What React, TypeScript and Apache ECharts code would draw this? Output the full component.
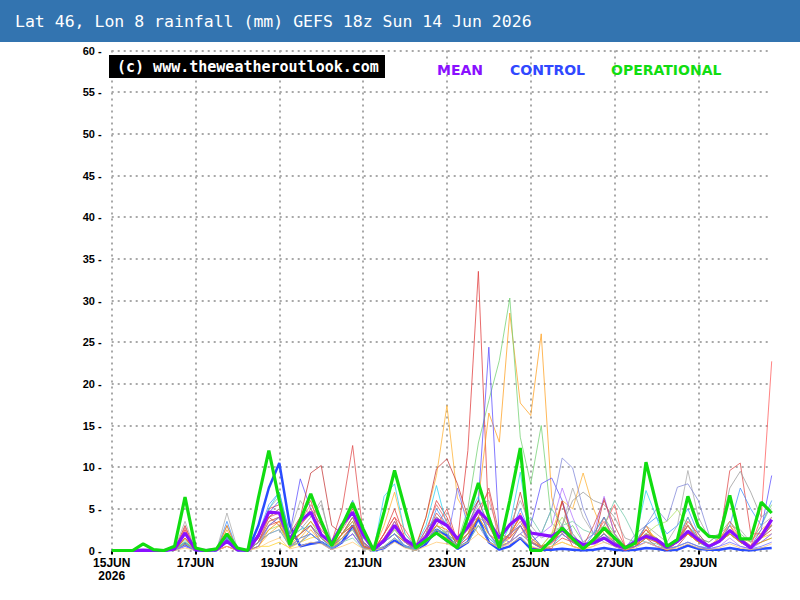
import React, { useEffect, useRef } from "react";
import * as echarts from "echarts";

const TITLE = "Lat 46, Lon 8 rainfall (mm) GEFS 18z Sun 14 Jun 2026";
const STEPS = 64; // 6-hourly steps from 15 Jun 00z
const tickLabels = ["15JUN\n2026", "17JUN", "19JUN", "21JUN", "23JUN", "25JUN", "27JUN", "29JUN"];
const yTicks = [0, 5, 10, 15, 20, 25, 30, 35, 40, 45, 50, 55, 60];

const operational = [
  0, 0, 0, 0.8, 0.1, 0, 0.5, 6.4,
  0.3, 0, 0.2, 2.0, 0.3, 0, 6.3, 12.0,
  6.0, 0.7, 3.6, 6.8, 3.5, 0.6, 3.0, 5.7,
  2.6, 0, 4.6, 9.6, 5.0, 0.3, 1.2, 2.1,
  1.2, 0.3, 4.0, 8.1, 4.0, 0.3, 6.0, 12.3,
  0, 0, 1.3, 2.7, 1.4, 0.2, 1.3, 2.7,
  1.5, 0.3, 0.9, 10.6, 5.5, 0.5, 1.3, 6.5,
  2.9, 1.7, 1.6, 6.6, 1.4, 1.4, 5.8, 4.5,
];

const mean = [
  0, 0, 0, 0.05, 0, 0, 0.2, 2.1,
  0.1, 0, 0.1, 1.1, 0.1, 0, 1.8, 4.6,
  4.5, 1.3, 3.5, 4.6, 1.9, 0.9, 3.1, 4.6,
  1.9, 0.1, 1.2, 3.0, 1.3, 0.5, 1.6, 3.7,
  3.0, 1.4, 2.8, 4.8, 3.5, 1.5, 3.1, 4.1,
  2.1, 1.9, 1.7, 2.5, 1.5, 0.7, 0.9, 1.5,
  0.7, 0.3, 1.1, 1.7, 1.3, 0.4, 1.1, 2.3,
  1.3, 0.5, 1.1, 2.4, 1.3, 0.3, 1.7, 3.7,
];

const control = [
  0, 0, 0, 0, 0, 0, 0.1, 0.8,
  0, 0, 0, 1.5, 0, 0, 3.0, 7.5,
  10.5, 3.0, 0.5, 0.8, 1.0, 0.2, 1.0, 3.0,
  0.5, 0, 0.3, 1.2, 0.5, 0.1, 0.8, 2.5,
  1.8, 0.2, 1.0, 3.9, 1.0, 0.1, 0.5, 1.5,
  0.2, 0.1, 0.1, 0.2, 0.1, 0, 0.1, 0.3,
  0.1, 0, 0.1, 0.3, 0.2, 0, 0.1, 0.6,
  0.2, 0.1, 0.1, 0.3, 0.1, 0, 0.2, 0.3,
];

const m01 = [0,0,0,0,0,0,0.2,2.5, 0,0,0,1.0,0,0,1.5,5.0, 5.5,1.0,4.0,6.0,2.0,0.5,3.0,5.0, 1.0,0,2.0,5.0,1.5,0.2,2.0,6.0, 4.0,1.0,12.0,33.5,3.0,0.5,2.0,4.0, 1.0,0.5,0.2,3.0,0.5,0.1,1.0,2.0, 0.5,0,0.5,3.0,1.0,0,1.0,4.0, 1.5,0.5,1.0,3.0,1.0,0.2,2.0,4.0];
const m02 = [0,0,0,0,0,0,0,1.5, 0,0,0,2.5,0,0,1.0,3.0, 4.0,0.5,1.0,2.5,1.0,0.2,1.5,3.0, 0.5,0,1.0,2.0,1.0,0.5,2.0,4.0, 3.0,1.5,3.0,6.0,16.5,13.0,28.5,17.7, 16.2,26.0,6.4,2.0,1.0,0.5,1.0,2.5, 1.0,0.2,0.5,2.0,1.5,0.3,1.0,3.0, 1.0,0.5,1.5,2.5,1.0,0.5,2.0,3.0];
const m03 = [0,0,0,0,0,0,0.1,1.0, 0,0,0,1.5,0,0,0.5,2.0, 3.0,0.3,1.5,3.0,1.0,0.1,2.0,4.0, 1.0,0,3.0,7.0,2.0,0.5,4.0,9.0, 17.4,6.3,4.0,2.0,1.0,0.5,1.0,2.0, 1.0,0.5,2.0,6.0,5.0,9.3,5.0,2.0, 1.0,0.3,1.0,3.0,1.0,0.2,1.0,2.0, 1.0,0.5,1.5,3.0,1.5,1.0,2.5,3.5];
const m04 = [0,0,0,0,0,0,0,1.2, 0,0,0,1.0,0,0,1.0,3.5, 4.0,1.0,2.0,3.5,1.5,0.3,2.0,3.0, 0.5,0,1.0,2.5,1.0,0.3,1.5,3.0, 2.0,1.0,5.0,12.9,18.0,22.8,30.3,13.6, 8.0,15.0,3.3,2.0,3.0,1.0,2.0,4.0, 2.0,0.5,1.0,2.0,1.5,0.5,1.5,3.0, 1.5,1.0,2.0,3.5,2.0,1.0,3.0,5.5];
const m05 = [0,0,0,0,0,0,0,0.8, 0,0,0,1.0,0,0,2.0,4.5, 6.0,2.0,8.6,5.0,3.0,0.5,1.5,2.5, 0.5,0,1.0,3.5,1.0,0.2,2.5,4.0, 3.0,1.0,3.0,6.0,24.4,1.6,1.0,2.0, 3.0,8.0,8.7,6.0,2.0,0.5,1.0,2.0, 0.5,0,0.5,1.5,1.0,0.2,1.0,2.0, 1.0,0.3,1.0,2.0,1.0,0.5,2.5,9.0];
const m06 = [0,0,0,0,0,0,0,2.0, 0,0,0,0.5,0,0,1.0,3.0, 3.5,1.5,3.0,4.5,2.5,1.0,5.0,12.6, 2.0,0,1.0,2.0,1.0,0,1.0,3.0, 5.0,1.0,2.0,5.0,2.0,0.5,1.0,3.0, 0.5,0,0.5,1.5,1.0,0.2,1.0,4.0, 1.0,0,0.5,2.0,1.0,0.2,1.0,3.0, 1.0,0.5,1.0,9.6,10.5,2.0,2.0,3.0];
const m07 = [0,0,0,0,0,0,0.1,3.0, 0,0,0,1.0,0,0,2.0,4.0, 5.0,2.0,4.0,9.3,10.2,3.0,2.0,4.0, 1.0,0,2.0,4.0,1.0,0.3,4.0,9.8, 11.0,8.0,4.0,6.0,3.0,1.0,2.0,7.0, 2.0,0.5,1.0,5.9,1.0,0.2,1.0,6.3, 2.0,0.3,0.5,1.5,0.5,0,0.5,2.0, 1.0,0.5,1.0,2.0,1.0,0.3,1.5,2.5];
const m08 = [0,0,0,0,0,0,0.2,3.5, 0,0,0,4.5,0.2,0,1.5,5.0, 6.5,2.0,6.0,4.0,5.5,1.0,3.0,6.0, 1.5,0,1.0,2.0,0.5,0.2,2.0,4.0, 2.0,1.0,3.0,5.5,6.0,2.0,3.0,6.0, 3.0,1.5,2.0,3.0,7.5,4.0,2.0,1.5, 1.0,0.5,1.0,3.0,2.0,1.0,3.0,9.6, 4.0,1.5,2.0,3.0,2.5,1.0,3.0,4.0];
const m09 = [0,0,0,0,0,0,0,1.0, 0,0,0,1.5,0,0,2.0,5.0, 7.0,1.5,2.5,3.0,1.5,0.3,2.0,3.5, 0.3,0,6.5,8.0,2.0,0.5,3.0,7.8, 3.0,0.5,4.0,6.5,2.0,0.3,3.0,9.4, 1.0,0.2,0.5,2.0,1.0,0.2,1.0,2.0, 0.5,0.2,1.5,7.2,4.0,0.5,1.5,4.0, 1.0,0.3,1.0,2.0,1.0,0.3,1.5,3.0];
const m10 = [0,0,0,0,0,0,0,0.8, 0,0,0,2.0,0,0,0.5,0.5, 1.0,0.3,1.0,1.5,1.8,0.5,1.0,2.0, 0.3,0,0.5,1.5,0.5,0,1.0,2.5, 1.5,0.5,2.0,3.0,2.0,0.5,1.5,3.0, 1.0,0.3,0.5,1.0,0.5,0.2,0.5,1.5, 0.5,0.2,1.0,2.5,1.5,0.5,1.0,2.0, 1.0,0.5,1.0,2.0,1.0,0.5,1.5,2.0];
const m11 = [0,0,0,0,0,0,0,1.5, 0,0,0,3.0,0,0,1.0,3.0, 4.0,1.0,2.0,3.0,1.0,0.2,1.0,2.0, 0.3,0,1.0,2.0,0.5,0.1,1.0,3.0, 2.0,0.5,1.0,3.0,1.0,0.3,1.0,3.0, 1.0,2.0,5.0,11.1,9.9,5.0,2.0,1.0, 0.5,0.2,2.0,3.0,5.0,3.5,7.6,8.0, 6.0,2.0,1.0,2.0,1.0,0.3,1.0,2.0];
const m12 = [0,0,0,0,0,0,0,2.5, 0,0,0,1.0,0,0,1.0,3.5, 4.0,1.0,3.0,5.0,3.0,0.5,1.5,3.0, 0.5,0,2.0,4.0,2.5,0.5,1.0,2.0, 1.5,0.5,2.0,5.0,7.0,1.0,1.5,4.5, 1.0,0.3,1.0,2.0,1.0,0.2,1.0,3.0, 5.5,0.5,1.0,2.0,1.0,0.2,1.0,2.0, 1.5,0.5,1.0,2.5,1.0,0.5,4.0,22.7];
const m13 = [0,0,0,0,0,0,0,1.0, 0,0,0,1.5,0,0,1.0,2.5, 3.0,0.5,1.5,2.0,1.0,0.2,1.5,2.5, 0.3,0,1.0,2.5,1.0,0.2,1.5,3.0, 2.0,0.5,2.0,4.0,2.0,0.5,1.0,2.0, 1.0,0.5,2.0,4.0,2.0,0.5,1.5,3.0, 2.0,0.5,1.0,2.0,3.0,3.5,4.9,3.0, 1.0,0.5,1.0,2.0,1.0,0.5,2.0,3.0];
const m14 = [0,0,0,0,0,0,0,0.5, 0,0,0,1.0,0,0,1.0,2.0, 2.5,0.5,1.0,2.0,1.0,0.1,1.0,2.0, 0.2,0,0.5,1.5,0.5,0.1,1.0,2.0, 1.0,0.5,1.5,5.0,2.0,0.3,1.0,2.0, 1.0,2.0,3.0,7.5,4.0,1.0,2.0,6.5, 2.0,0.3,0.5,1.0,0.5,0.1,0.5,1.0, 0.5,0.2,0.5,1.5,0.5,0.2,1.0,2.0];
const m15 = [0,0,0,0,0,0,0,1.0, 0,0,0,3.5,0,0,2.0,5.5, 7.0,2.0,3.0,2.0,1.0,0.2,3.0,6.0, 1.0,0,1.0,2.0,0.5,0,1.5,5.0, 3.0,0.5,2.0,3.5,1.5,0.3,2.0,5.0, 2.0,0.5,1.0,3.0,1.5,0.3,2.0,4.0, 1.0,0.2,1.0,3.0,4.0,2.0,3.0,5.0, 2.0,0.5,1.0,3.0,7.5,5.0,3.0,6.0];
const m16 = [0,0,0,0,0,0,0,2.0, 0,0,0,2.0,0,0,2.0,4.0, 5.0,1.5,2.5,4.0,6.0,0.5,2.0,4.0, 0.5,0,1.0,3.0,1.0,0.3,2.0,4.0, 3.0,1.0,3.0,4.0,3.0,0.5,2.0,4.0, 1.5,0.5,1.0,3.0,6.0,7.0,6.0,5.5, 4.0,1.5,1.0,2.0,1.5,0.5,1.0,3.0, 1.5,1.0,2.0,7.5,9.5,7.0,4.0,5.0];
const m17 = [0,0,0,0,0,0,0,1.5, 0,0,0,0.5,0,0,1.0,4.0, 3.0,1.0,2.0,3.0,1.5,0.5,2.0,3.0, 0.5,0,1.0,3.0,1.0,0.3,1.5,4.5, 3.0,0.5,1.5,4.0,7.5,2.0,1.5,3.0, 1.0,0.3,1.0,5.9,1.5,0.5,3.0,6.0, 3.0,0.5,1.0,2.5,1.0,0.3,1.0,3.5, 2.0,0.5,1.0,2.5,1.0,0.5,1.5,3.0];
const m18 = [0,0,0,0,0,0,0,1.0, 0,0,0,1.0,0,0,1.0,2.0, 2.5,0.5,1.0,2.0,1.0,0.2,1.0,1.5, 0.2,0,0.5,1.5,0.5,0.1,1.0,2.5, 2.0,0.5,1.0,3.0,1.5,0.5,2.0,3.0, 4.0,2.0,5.0,3.0,3.5,2.5,2.0,3.0, 6.0,4.0,1.5,1.0,0.8,0.2,0.5,1.0, 0.5,0.3,1.0,2.5,1.5,0.5,1.0,1.5];
const m19 = [0,0,0,0,0,0,0,1.5, 0,0,0,3.0,0,0,0.5,2.5, 3.5,0.5,2.0,3.5,2.0,0.5,2.0,3.5, 0.5,0,1.5,3.0,1.0,0.3,1.5,3.0, 2.5,1.0,2.0,4.0,2.0,1.0,2.0,4.0, 1.5,0.5,1.0,2.5,1.0,0.3,1.0,2.0, 1.0,0.3,0.5,1.5,1.0,0.3,1.0,2.0, 1.0,0.5,1.0,2.0,1.0,0.5,1.0,1.5];
const m20 = [0,0,0,0,0,0,0,0.5, 0,0,0,1.5,0,0,0.5,3.0, 4.0,0.5,1.5,2.0,1.0,0.2,1.0,2.0, 0.3,0,1.0,3.0,1.0,0.2,1.0,2.0, 1.0,7.5,3.0,5.0,2.0,0.5,2.0,3.0, 1.0,0.3,1.0,2.0,1.0,0.3,1.0,2.0, 1.0,0.2,0.5,1.0,0.5,0.2,0.5,1.0, 0.5,0.2,0.5,1.0,0.5,0.2,0.5,1.0];
const m21 = [0,0,0,0,0,0,0,0.3, 0,0,0,0.5,0,0,0.3,1.0, 1.5,0.2,0.5,1.0,0.8,0.1,0.5,1.0, 0.2,0,0.3,1.0,0.3,0,0.5,1.0, 0.8,0.3,1.0,2.0,1.0,0.3,0.8,1.5, 0.5,0.2,0.5,1.0,0.5,0.1,0.5,1.0, 0.5,0.1,0.3,1.0,0.5,0.1,0.3,0.8, 0.3,0.1,0.3,0.8,0.3,0.1,0.3,0.8];
const m22 = [0,0,0,0,0,0,0,2.8, 0,0,0,2.0,0,0,1.5,4.0, 4.5,1.0,3.5,5.5,3.5,0.8,2.5,4.5, 0.8,0,1.5,3.5,1.5,0.4,2.5,5.5, 3.5,1.0,2.5,4.5,3.0,0.8,1.8,3.5, 1.2,0.4,0.8,2.5,1.2,0.3,1.5,3.5, 1.5,0.4,0.8,2.5,1.2,0.3,1.2,3.0, 1.2,0.6,1.2,3.5,1.5,0.6,1.8,3.2];

const memberColors = [
  "#e03a3a", "#ffa020", "#ffb030", "#70d070", "#5a4cff", "#e04848", "#c43434", "#a8a8a8",
  "#28d0f0", "#ffd020", "#7f86d8", "#ff5a5a", "#a8e060", "#b070ff", "#4090ff", "#989898",
  "#d04848", "#70c8a8", "#ff8c00", "#7070ff", "#ffc870", "#e86060",
];
const members = [m01, m02, m03, m04, m05, m06, m07, m08, m09, m10, m11, m12, m13, m14, m15, m16, m17, m18, m19, m20, m21, m22];

const legendItems = [
  { text: "MEAN", color: "#8a10ff", x: 437 },
  { text: "CONTROL", color: "#3048ff", x: 510 },
  { text: "OPERATIONAL", color: "#11dd11", x: 611 },
];

export default function App() {
  const ref = useRef<HTMLDivElement>(null);
  useEffect(() => {
    if (!ref.current) return;
    const chart = echarts.init(ref.current, undefined, { renderer: "svg" });
    const categories = Array.from({ length: STEPS }, (_, i) => String(i));
    const lineSeries = (name: string, data: number[], color: string, width: number, z: number, opacity = 1) => ({
      name,
      type: "line",
      data,
      symbol: "none",
      silent: true,
      z,
      lineStyle: { color, width, opacity },
      itemStyle: { color },
    });
    const series: any[] = [lineSeries("CONTROL", control, "#2a4cff", 2.5, 2)];
    members.forEach((m, i) =>
      series.push(lineSeries("member" + (i + 1), m, memberColors[i % memberColors.length], 1, 2, 0.75))
    );
    series.push(lineSeries("MEAN", mean, "#8a10ff", 3.2, 5));
    series.push(lineSeries("OPERATIONAL", operational, "#11dd11", 3.2, 6));

    chart.setOption({
      animation: false,
      backgroundColor: "#ffffff",
      grid: { left: 111.7, right: 28.3, top: 50.5, bottom: 49.5, containLabel: false },
      xAxis: {
        type: "category",
        data: categories,
        boundaryGap: false,
        axisLine: { show: false },
        axisTick: { show: true, interval: 7, length: 4, lineStyle: { color: "#000", width: 2 } },
        axisLabel: {
          interval: 7,
          margin: 6,
          color: "#000",
          fontFamily: "Liberation Sans",
          fontWeight: "bold",
          fontSize: 12,
          lineHeight: 13,
          formatter: (_v: string, idx: number) => tickLabels[Math.floor(idx / 8)] ?? "",
        },
        splitLine: { show: true, interval: 7, lineStyle: { color: "#a8a8a8", width: 2, type: [2, 4] } },
      },
      yAxis: {
        type: "value",
        min: yTicks[0],
        max: yTicks[yTicks.length - 1],
        interval: yTicks[1] - yTicks[0],
        axisLine: { show: false },
        axisTick: { show: false },
        axisLabel: {
          margin: 10,
          color: "#000",
          fontFamily: "Liberation Sans",
          fontWeight: "bold",
          fontSize: 11,
          verticalAlign: "middle",
          lineHeight: 9,
          padding: [0, 0, 4, 0],
          formatter: (v: number) => v + " -",
        },
        splitLine: { show: true, lineStyle: { color: "#a8a8a8", width: 2, type: [2, 4] } },
      },
      series,
      graphic: [
        {
          type: "rect",
          shape: { x: 0, y: 0, width: 800, height: 42 },
          style: { fill: "#3374b0" },
          z: 100,
        },
        {
          type: "text",
          x: 15,
          y: 21,
          style: {
            text: TITLE,
            fill: "#ffffff",
            font: "16.5px 'DejaVu Sans Mono'",
            textVerticalAlign: "middle",
          },
          z: 101,
        },
        {
          type: "rect",
          shape: { x: 109, y: 55, width: 276, height: 23 },
          style: { fill: "#000000" },
          z: 100,
        },
        {
          type: "text",
          x: 117,
          y: 67,
          style: {
            text: "(c) www.theweatheroutlook.com",
            fill: "#ffffff",
            font: "bold 15px 'DejaVu Sans Mono'",
            textVerticalAlign: "middle",
          },
          z: 101,
        },
        ...legendItems.map((l) => ({
          type: "text",
          x: l.x,
          y: 70,
          style: {
            text: l.text,
            fill: l.color,
            font: "bold 14px 'DejaVu Sans'",
            textVerticalAlign: "middle",
          },
          z: 101,
        })),
      ],
    });
    return () => chart.dispose();
  }, []);
  return (
    <div
      ref={ref}
      style={{ position: "fixed", left: 0, top: 0, width: 800, height: 600, background: "#fff" }}
    />
  );
}
